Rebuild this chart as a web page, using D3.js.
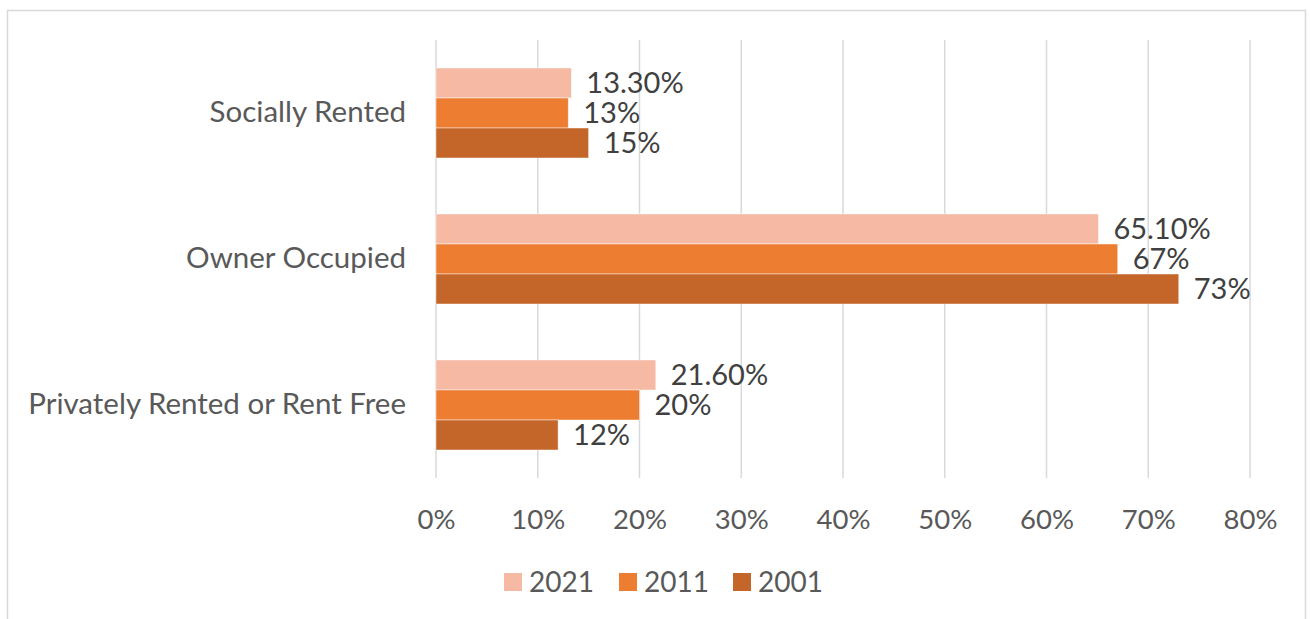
<!DOCTYPE html>
<html>
<head>
<meta charset="utf-8">
<script src="https://cdn.jsdelivr.net/npm/d3@7"></script>
<style>
  html, body { margin: 0; padding: 0; background: #fff; }
  svg { display: block; font-family: Lato, "Open Sans", sans-serif; }
</style>
</head>
<body>
<svg id="chart" width="1310" height="619"></svg>
<script>
// Housing tenure shares by census year
const categories = ["Socially Rented", "Owner Occupied", "Privately Rented or Rent Free"];
const years = ["2021", "2011", "2001"];
const values2021 = [0.133, 0.651, 0.216];
const values2011 = [0.13, 0.67, 0.20];
const values2001 = [0.15, 0.73, 0.12];
const tickValues = [0, 0.1, 0.2, 0.3, 0.4, 0.5, 0.6, 0.7, 0.8];

const series = [
  { year: years[0], values: values2021, color: "#F5B9A4", fmt: d3.format(".2%") },
  { year: years[1], values: values2011, color: "#ED7D31", fmt: d3.format(".0%") },
  { year: years[2], values: values2001, color: "#C4662A", fmt: d3.format(".0%") }
];

const svg = d3.select("#chart");

// outer chart frame (bottom edge runs off the canvas)
svg.append("rect")
  .attr("x", 7.5).attr("y", 10.5)
  .attr("width", 1298).attr("height", 640)
  .attr("fill", "none").attr("stroke", "#d9d9d9").attr("stroke-width", 1.5);

const plot = { left: 436, right: 1250, top: 40, bottom: 478 };

const x = d3.scaleLinear().domain([0, 0.8]).range([plot.left, plot.right]);
const y = d3.scaleBand().domain(categories)
  .range([plot.top, plot.bottom])
  .paddingInner(56 / 146).paddingOuter(28 / 146);
const ySub = d3.scaleBand().domain(years).range([0, y.bandwidth()]);

// vertical gridlines
svg.append("g").selectAll("line").data(tickValues).join("line")
  .attr("x1", d => x(d)).attr("x2", d => x(d))
  .attr("y1", plot.top).attr("y2", plot.bottom)
  .attr("stroke", "#d9d9d9").attr("stroke-width", 1.5);

// x axis tick labels
const xAxis = d3.axisBottom(x).tickValues(tickValues).tickFormat(d3.format(".0%")).tickSize(0).tickPadding(0);
const gx = svg.append("g").attr("transform", `translate(0,${plot.bottom})`).call(xAxis);
gx.select(".domain").remove();
gx.selectAll("text")
  .attr("y", 51).attr("dy", null)
  .attr("font-size", 27.5).attr("font-family", "Lato, 'Open Sans', sans-serif")
  .attr("fill", "#595959");

// category labels
const yAxis = d3.axisLeft(y).tickSize(0).tickPadding(0);
const gy = svg.append("g").attr("transform", `translate(${plot.left - 30},0)`).call(yAxis);
gy.select(".domain").remove();
gy.selectAll("text")
  .attr("font-size", 29.5).attr("font-family", "Lato, 'Open Sans', sans-serif")
  .attr("fill", "#595959");

// bars and value labels
const groups = svg.append("g").selectAll("g").data(series).join("g");
groups.selectAll("rect")
  .data(s => s.values.map((v, i) => ({ v, cat: categories[i], s })))
  .join("rect")
  .attr("x", x(0))
  .attr("y", d => y(d.cat) + ySub(d.s.year))
  .attr("width", d => x(d.v) - x(0))
  .attr("height", ySub.bandwidth())
  .attr("fill", d => d.s.color)
  .attr("stroke", "#ffffff").attr("stroke-opacity", 0.6).attr("stroke-width", 0.75);

groups.selectAll("text")
  .data(s => s.values.map((v, i) => ({ v, cat: categories[i], s })))
  .join("text")
  .attr("x", d => x(d.v) + 15)
  .attr("y", d => y(d.cat) + ySub(d.s.year) + ySub.bandwidth() / 2)
  .attr("dy", "0.36em")
  .attr("font-size", 29)
  .attr("fill", "#404040")
  .text(d => d.s.fmt(d.v));

// legend
const legendX = [504, 619, 733];
const legend = svg.append("g").selectAll("g").data(series).join("g")
  .attr("transform", (d, i) => `translate(${legendX[i]},573)`);
legend.append("rect").attr("width", 18).attr("height", 18).attr("fill", d => d.color);
legend.append("text")
  .attr("x", 25).attr("y", 9).attr("dy", "0.36em")
  .attr("font-size", 28).attr("fill", "#595959")
  .text(d => d.year);
</script>
</body>
</html>
